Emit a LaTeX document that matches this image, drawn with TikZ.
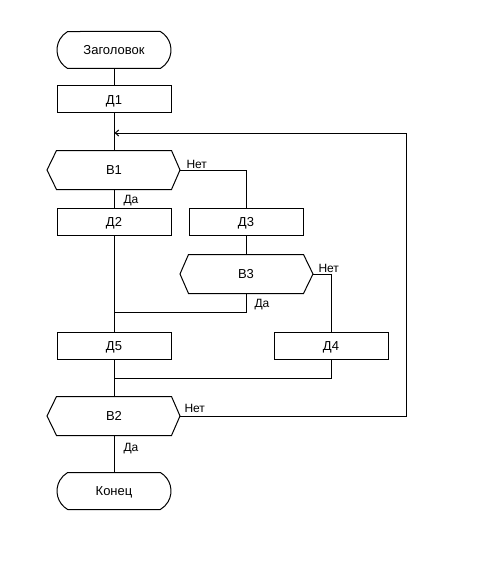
\documentclass[tikz,border=0pt]{standalone}
\usepackage{fontspec}
\setmainfont{Liberation Sans}
\usetikzlibrary{shapes.misc,arrows.meta}
\tikzset{
  x=1pt, y=-1pt,
  every path/.style={line width=1pt},
  txt/.style={font=\fontsize{13}{15}\selectfont, text height=9.3pt, text depth=0pt},
  term/.style={rounded rectangle, rounded rectangle arc length=120, draw, minimum width=114pt, minimum height=37pt, inner sep=0pt, txt},
  proc/.style={rectangle, draw, minimum width=114pt, minimum height=27pt, inner sep=0pt, txt},
  hexa/.style={rectangle, minimum width=114pt, minimum height=38pt, inner sep=0pt, txt},
  lbl/.style={anchor=base west, inner sep=0pt, font=\fontsize{12}{14}\selectfont},
}
\newcommand{\hexdraw}[1]{%
  \draw (#1.north west) -- (#1.north east) -- (#1r) -- (#1.south east) -- (#1.south west) -- (#1l) -- cycle;}
\begin{document}
\begin{tikzpicture}
\useasboundingbox (0,0) rectangle (491,567);
% nodes
\node[term] (zag) at (114,50) {Заголовок};
\node[proc] (d1) at (114,99.5) {Д1};
\node[hexa] (b1) at (114,170) {В1};
\coordinate (b1r) at (180,170); \coordinate (b1l) at (47,170);
\hexdraw{b1}
\node[proc] (d2) at (114,221.5) {Д2};
\node[proc] (d3) at (246,221.5) {Д3};
\node[hexa] (b3) at (246,274) {В3};
\coordinate (b3r) at (313,274); \coordinate (b3l) at (180,274);
\hexdraw{b3}
\node[proc] (d5) at (114,345.5) {Д5};
\node[proc] (d4) at (331,345.5) {Д4};
\node[hexa] (b2) at (114,416) {В2};
\coordinate (b2r) at (180,416); \coordinate (b2l) at (47,416);
\hexdraw{b2}
\node[term] (kon) at (114,491) {Конец};
% junctions
\coordinate (j0) at (114,133);
\coordinate (loop) at (406,133);
\coordinate (j1) at (114,312);
\coordinate (j2) at (114,378);
% connectors
\draw (zag.south) -- (d1.north);
\draw (d1.south) -- (b1.north);
\draw (b1.south) -- (d2.north);
\draw (b1r) -| (d3.north);
\draw (d3.south) -- (b3.north);
\draw (b3r) -| (d4.north);
\draw (b3.south) |- (j1);
\draw (d2.south) -- (d5.north);
\draw (d4.south) |- (j2);
\draw (d5.south) -- (b2.north);
\draw (b2.south) -- (kon.north);
\draw[-{Straight Barb[length=3.5pt,width=6pt]}] (b2r) -| (loop) -- ([xshift=0.5pt]j0);
% labels
\node[lbl] (n1) at (186,168) {Нет};
\node[lbl] (y1) at (123,203) {Да};
\node[lbl] (n3) at (318,272) {Нет};
\node[lbl] (y3) at (254,307) {Да};
\node[lbl] (n2) at (184,412) {Нет};
\node[lbl] (y2) at (123,451) {Да};
\end{tikzpicture}
\end{document}
